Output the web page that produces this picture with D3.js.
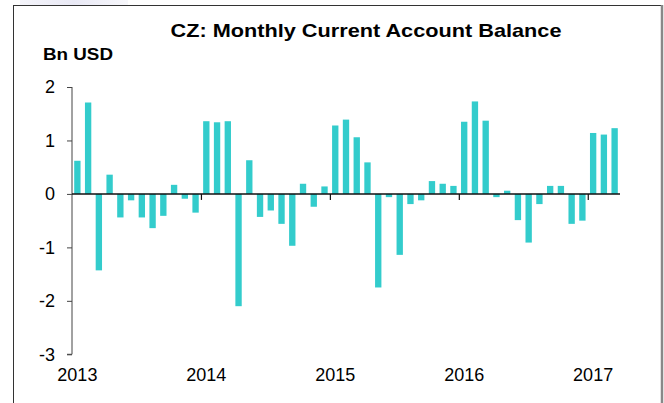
<!DOCTYPE html>
<html>
<head>
<meta charset="utf-8">
<script src="https://cdn.jsdelivr.net/npm/d3@7"></script>
<style>
  html, body { margin: 0; padding: 0; background: #fff; }
  svg { display: block; font-family: "Liberation Sans", Arial, sans-serif; }
</style>
</head>
<body>
<svg id="chart" width="664" height="403"></svg>
<script>
// ---- Data ----
const years = ["2013", "2014", "2015", "2016", "2017"];
const monthsPerYear = [12, 12, 12, 12, 3];
const values2013 = [0.62, 1.71, -1.43, 0.36, -0.44, -0.12, -0.44, -0.64, -0.41, 0.17, -0.09, -0.35];
const values2014 = [1.36, 1.34, 1.36, -2.10, 0.63, -0.43, -0.31, -0.56, -0.97, 0.19, -0.24, 0.14];
const values2015 = [1.28, 1.39, 1.06, 0.59, -1.75, -0.06, -1.14, -0.19, -0.12, 0.24, 0.19, 0.15];
const values2016 = [1.35, 1.73, 1.37, -0.06, 0.06, -0.49, -0.91, -0.19, 0.15, 0.15, -0.56, -0.50];
const values2017 = [1.14, 1.11, 1.23];
const yTicks = [-3, -2, -1, 0, 1, 2];
const titleText = "CZ: Monthly Current Account Balance";
const unitText = "Bn USD";

(function () {
// Build month records
const seriesByYear = [values2013, values2014, values2015, values2016, values2017];
const data = [];
seriesByYear.forEach((vals, yi) => {
  vals.forEach((v, mi) => data.push({ key: years[yi] + "-" + (mi + 1), year: years[yi], month: mi, value: v }));
});

const svg = d3.select("#chart");

// faint watermark at top-left
const defs = svg.append("defs");
const grad = defs.append("linearGradient").attr("id", "wm").attr("x1", "0").attr("x2", "1");
grad.append("stop").attr("offset", "0").attr("stop-color", "#f4f4fa");
grad.append("stop").attr("offset", "0.5").attr("stop-color", "#e9e9f5");
grad.append("stop").attr("offset", "1").attr("stop-color", "#f7f7fb");
svg.append("rect").attr("x", 20).attr("y", 0).attr("width", 108).attr("height", 5).attr("fill", "url(#wm)");

// frame
svg.append("line").attr("x1", 13.5).attr("x2", 13.5).attr("y1", 5).attr("y2", 403).attr("stroke", "#333").attr("stroke-width", 1);
svg.append("line").attr("x1", 13).attr("x2", 662).attr("y1", 5.5).attr("y2", 5.5).attr("stroke", "#333").attr("stroke-width", 1);
svg.append("line").attr("x1", 662).attr("x2", 662).attr("y1", 5).attr("y2", 403).attr("stroke", "#888").attr("stroke-width", 2.5);

// scales
const pLeft = 72, pRight = 620, pTop = 87, pBottom = 354.3;
const x = d3.scaleBand().domain(data.map(d => d.key)).range([pLeft, pRight]).paddingInner(0.41).paddingOuter(0.205);
const xLin = d3.scaleLinear().domain([0, data.length]).range([pLeft, pRight]);
const y = d3.scaleLinear().domain([-3, 2]).range([pBottom, pTop]);

// bars
svg.append("g").selectAll("rect").data(data).join("rect")
  .attr("x", d => x(d.key))
  .attr("width", x.bandwidth())
  .attr("y", d => y(Math.max(0, d.value)))
  .attr("height", d => Math.abs(y(d.value) - y(0)))
  .attr("fill", "#33cccc");

// y axis
const yAxis = svg.append("g").attr("transform", `translate(${pLeft},0)`)
  .call(d3.axisLeft(y).tickValues(yTicks).tickFormat(d3.format("d")).tickSize(5).tickPadding(12));
yAxis.select(".domain").attr("stroke", "#444").attr("d", `M-5,${y(-3)}H0V${y(2)}`);
yAxis.selectAll(".tick line").attr("stroke", "#444");
yAxis.selectAll("text").attr("font-size", 18).attr("fill", "#000").attr("font-family", "Liberation Sans, Arial, sans-serif")
  .text(d => d < 0 ? "-" + Math.abs(d) : d);

// x axis (zero line) with year ticks
let cum = 0;
const yearStarts = monthsPerYear.map(n => { const s = cum; cum += n; return s; });
const xAxis = svg.append("g").attr("transform", `translate(0,${y(0)})`)
  .call(d3.axisBottom(xLin).tickValues(yearStarts.slice(1)).tickSize(6).tickFormat(""));
xAxis.select(".domain").attr("stroke", "#111").attr("stroke-width", 1.5).attr("d", `M${pLeft},0H${pRight}`);
xAxis.selectAll(".tick line").attr("stroke", "#111").attr("stroke-width", 1.2);

// year labels centered on January bars
svg.append("g").selectAll("text").data(years).join("text")
  .attr("x", (d, i) => x(d + "-1") + x.bandwidth() / 2)
  .attr("y", 381)
  .attr("text-anchor", "middle")
  .attr("font-size", 18)
  .attr("fill", "#000")
  .text(d => d);

// title and unit
svg.append("text").attr("x", 366).attr("y", 37).attr("text-anchor", "middle")
  .attr("font-size", 19).attr("font-weight", "bold").attr("fill", "#000")
  .attr("textLength", 391).attr("lengthAdjust", "spacingAndGlyphs")
  .text(titleText);
svg.append("text").attr("x", 43).attr("y", 60)
  .attr("font-size", 17).attr("font-weight", "bold").attr("fill", "#000")
  .attr("textLength", 70).attr("lengthAdjust", "spacingAndGlyphs")
  .text(unitText);
})();
</script>
</body>
</html>
